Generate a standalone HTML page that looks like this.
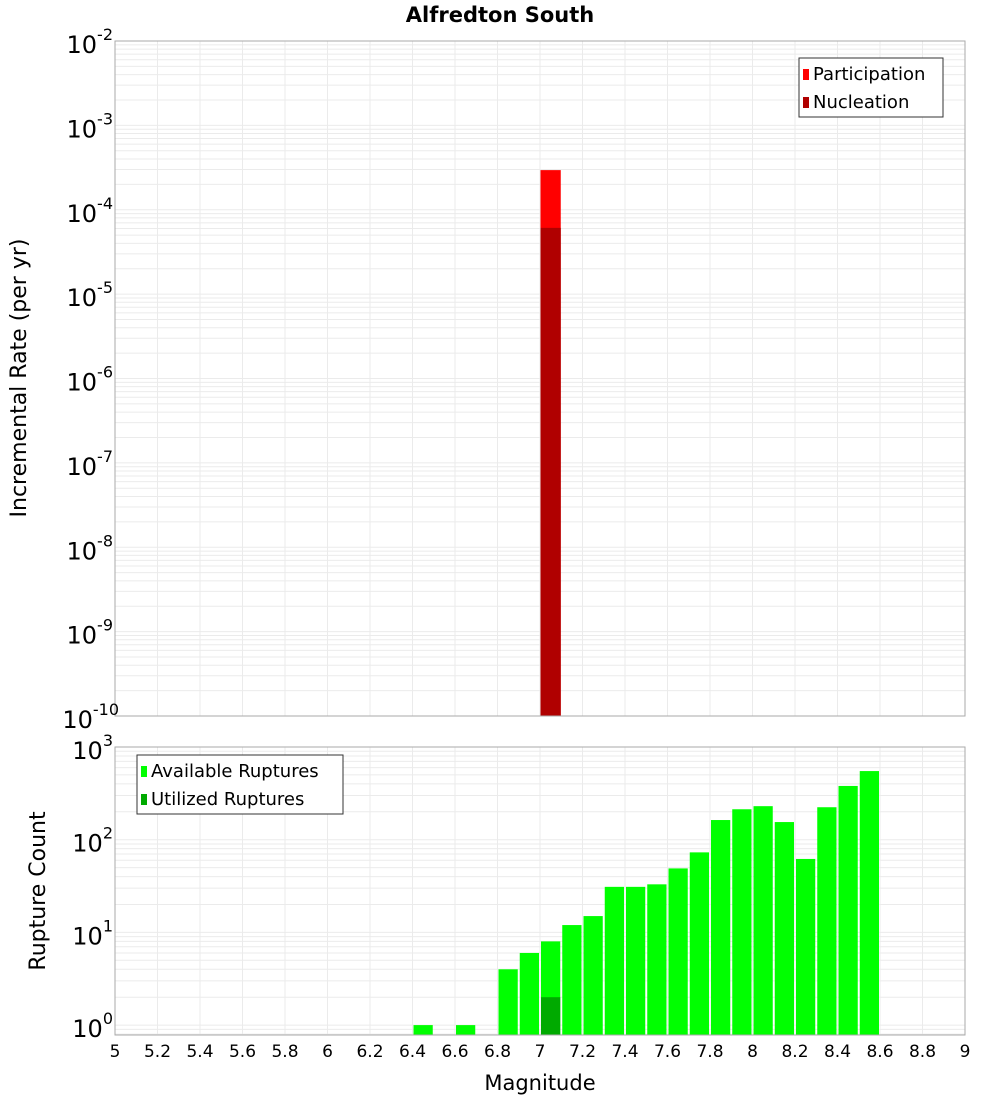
<!DOCTYPE html>
<html><head><meta charset="utf-8"><style>
body{margin:0;background:#fff;}
svg text{font-family:"DejaVu Sans","Liberation Sans",sans-serif;}
</style></head><body>
<svg id="c" width="1000" height="1100" xmlns="http://www.w3.org/2000/svg"></svg>
<script>
const mags=[6.4,6.6,6.8,6.9,7.0,7.1,7.2,7.3,7.4,7.5,7.6,7.7,7.8,7.9,8.0,8.1,8.2,8.3,8.4,8.5];
const available=[1,1,4,6,8,12,15,31,31,33,49,73,163,213,230,155,62,224,380,550];
const utilizedMags=[7.0];
const utilized=[2];
const rateMags=[7.0];
const participation=[2.95e-4];
const nucleation=[6.1e-5];
const xTicks=[5,5.2,5.4,5.6,5.8,6,6.2,6.4,6.6,6.8,7,7.2,7.4,7.6,7.8,8,8.2,8.4,8.6,8.8,9];
const topExp=[-2,-3,-4,-5,-6,-7,-8,-9,-10];
const botExp=[3,2,1,0];

const NS="http://www.w3.org/2000/svg",svg=document.getElementById('c');
function el(t,a,txt){const e=document.createElementNS(NS,t);for(const k in a)e.setAttribute(k,a[k]);if(txt!==undefined)e.textContent=txt;svg.appendChild(e);return e;}
const X0=115,X1=965;
const x=m=>X0+(m-5)/4*(X1-X0);
const T0=41,T1=716; const yT=v=>T0+(-2-Math.log10(v))*(T1-T0)/8;
const B0=747,B1=1035,DEC=92.7; const yB=v=>B0+(3-Math.log10(v))*DEC;

function frame(top,bot,yf,lo,hi,name){
  const bg=el('rect',{x:X0,y:top,width:X1-X0,height:bot-top,fill:'#fff'});
  
  for(let e=lo;e<=hi;e++)for(let k=1;k<10;k++){const yy=yf(k*Math.pow(10,e));if(yy<top||yy>bot)continue;
    const l=el('line',{x1:X0,x2:X1,y1:yy,y2:yy,stroke:'#ebebeb','stroke-width':1});
    }
  xTicks.forEach(t=>{const l=el('line',{x1:x(t),x2:x(t),y1:top,y2:bot,stroke:'#ebebeb','stroke-width':1});
    });
}
frame(T0,T1,yT,-11,-2,'rate');
frame(B0,B1,yB,-1,3,'count');

rateMags.forEach((m,i)=>{
  let r=el('rect',{x:x(m)+0.5,y:yT(participation[i]),width:x(m+0.1)-x(m)-1,height:T1-yT(participation[i]),fill:'#ff0000'});
  
  r=el('rect',{x:x(m)+0.5,y:yT(nucleation[i]),width:x(m+0.1)-x(m)-1,height:T1-yT(nucleation[i]),fill:'#b00000'});
  
});
mags.forEach((m,i)=>{
  const r=el('rect',{x:x(m)+1,y:yB(available[i]),width:x(m+0.1)-x(m)-2,height:B1-yB(available[i]),fill:'#00ff00'});
  
});
utilizedMags.forEach((m,i)=>{
  const r=el('rect',{x:x(m)+1,y:yB(utilized[i]),width:x(m+0.1)-x(m)-2,height:B1-yB(utilized[i]),fill:'#00aa00'});
  
});
[[T0,T1],[B0,B1]].forEach(([a,b])=>{const r=el('rect',{x:X0,y:a,width:X1-X0,height:b-a,fill:'none',stroke:'#aaa','stroke-width':1});
  });

function ylab(yy,e){const t=el('text',{x:108,y:yy+12,'font-size':24,'text-anchor':'end',fill:'#000'});
  
  const a=document.createElementNS(NS,'tspan');a.textContent='10';t.appendChild(a);
  const b=document.createElementNS(NS,'tspan');b.setAttribute('font-size','16');b.setAttribute('dy','-13');b.textContent=e;t.appendChild(b);
  t.setAttribute('x',X0+ (String(e).length>2?4:-2) - 0);
  t.setAttribute('text-anchor','end');}
topExp.forEach(e=>ylab(yT(Math.pow(10,e)),e));
botExp.forEach(e=>ylab(yB(Math.pow(10,e)),e));

xTicks.forEach(t=>{const s=el('text',{x:x(t),y:1057,'font-size':17,'text-anchor':'middle',fill:'#000'},String(t));
  });

let t=el('text',{x:500,y:22,'font-size':21,'font-weight':'bold','text-anchor':'middle'},'Alfredton South');

t=el('text',{x:540,y:1090,'font-size':21,'text-anchor':'middle'},'Magnitude');

t=el('text',{x:26,y:378,'font-size':22,'text-anchor':'middle',transform:'rotate(-90 26 378)'},'Incremental Rate (per yr)');

t=el('text',{x:45,y:891,'font-size':22,'text-anchor':'middle',transform:'rotate(-90 45 891)'},'Rupture Count');


function legend(x0,y0,w,items,name){
  const r=el('rect',{x:x0,y:y0,width:w,height:59,fill:'#fff',stroke:'#333','stroke-width':1});
  
  items.forEach(([c,lab],i)=>{
    const s=el('rect',{x:x0+4,y:y0+11+i*28,width:6,height:11,fill:c});
    
    const tt=el('text',{x:x0+14,y:y0+22+i*28,'font-size':18},lab);
    
  });
}
legend(799,58,144,[['#ff0000','Participation'],['#b00000','Nucleation']],'rate-legend');
legend(137,755,206,[['#00ff00','Available Ruptures'],['#00aa00','Utilized Ruptures']],'count-legend');
</script>
</body></html>
